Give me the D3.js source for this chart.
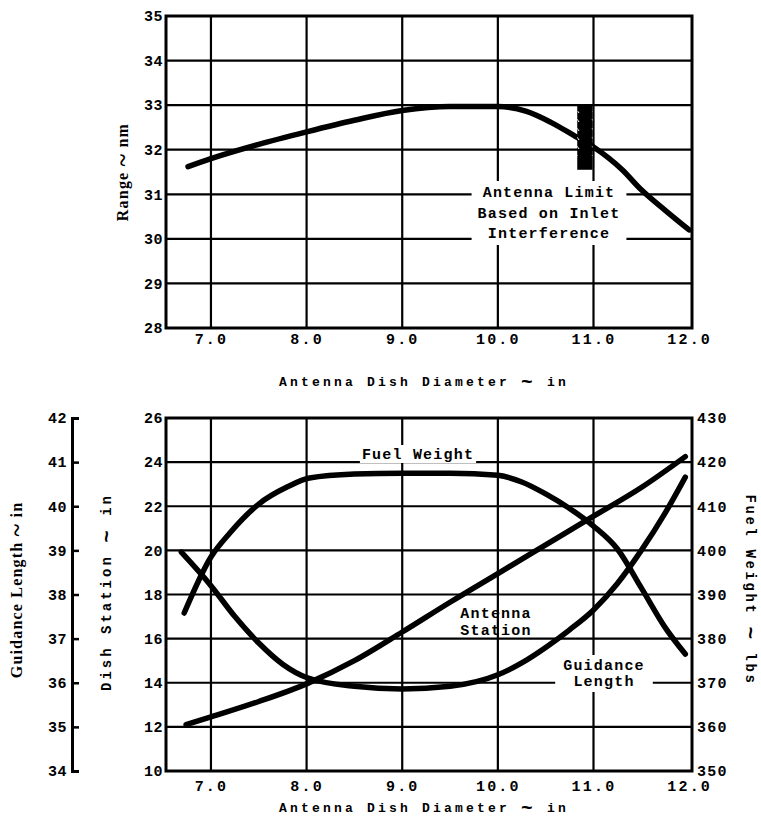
<!DOCTYPE html>
<html>
<head>
<meta charset="utf-8">
<script src="https://cdn.jsdelivr.net/npm/d3@7"></script>
<style>
body { margin: 0; background: #fff; }
</style>
</head>
<body>
<svg id="chart" width="761" height="822"></svg>
<script>
// Shared x values.
var diameterTicks = [7, 8, 9, 10, 11, 12];

// Top chart: range vs dish diameter.
var rangeTicks = [28, 29, 30, 31, 32, 33, 34, 35];
var rangeDiam = [6.76, 7.0, 7.5, 8.0, 8.5, 9.0, 9.5, 10.0, 10.3, 10.55, 10.81, 11.0, 11.3, 11.5, 11.75, 12.0];
var rangeNm = [31.62, 31.8, 32.12, 32.4, 32.66, 32.88, 32.97, 32.97, 32.86, 32.62, 32.3, 32.06, 31.55, 31.1, 30.64, 30.2];
var limitDiam = [10.83, 10.99];
var limitRange = [31.55, 33.0];

// Bottom chart: three curves on three y axes.
var stationTicks = [10, 12, 14, 16, 18, 20, 22, 24, 26];
var guidanceTicks = [34, 35, 36, 37, 38, 39, 40, 41, 42];
var fuelTicks = [350, 360, 370, 380, 390, 400, 410, 420, 430];

var fuelDiam = [6.72, 7.0, 7.2, 7.5, 7.8, 8.03, 8.5, 9.0, 9.5, 10.0, 10.25, 10.5, 10.75, 11.0, 11.25, 11.5, 11.75, 11.96];
var fuelLbs = [385.8, 398.5, 404, 410.5, 414.4, 416.4, 417.3, 417.5, 417.5, 417, 415.5, 412.8, 409.5, 405.5, 400.3, 391.5, 382.5, 376.5];

var stationDiam = [6.74, 7.0, 7.5, 8.0, 8.5, 9.0, 9.5, 10.0, 10.5, 11.0, 11.5, 11.96];
var stationIn = [12.1, 12.45, 13.15, 13.95, 15.0, 16.3, 17.65, 18.95, 20.25, 21.55, 22.85, 24.25];

var guidanceDiam = [6.69, 7.0, 7.25, 7.5, 7.75, 8.0, 8.5, 9.0, 9.5, 10.0, 10.25, 10.5, 10.75, 11.0, 11.25, 11.5, 11.75, 11.96];
var guidanceIn = [38.96, 38.2, 37.5, 36.9, 36.42, 36.12, 35.92, 35.86, 35.92, 36.18, 36.45, 36.8, 37.2, 37.65, 38.25, 39.0, 39.85, 40.66];

var MONO = "'Liberation Mono', 'Courier New', monospace";
var SERIF = "'Liberation Serif', 'DejaVu Serif', serif";

var svg = d3.select('#chart');

var x = d3.scaleLinear().domain([6.53, 12.03]).range([166, 692]);
var yRange = d3.scaleLinear().domain([28, 35]).range([328, 16]);
var yStation = d3.scaleLinear().domain([10, 26]).range([771, 418]);
var yGuidance = d3.scaleLinear().domain([34, 42]).range([771, 418]);
var yFuel = d3.scaleLinear().domain([350, 430]).range([771, 418]);

function zip(xs, ys) {
    return xs.map(function(d, i) { return [d, ys[i]]; });
}

function styleTicks(g, size, spacing) {
    g.select('.domain').remove();
    g.attr('font-family', MONO).attr('font-size', size).attr('font-weight', 'bold');
    g.selectAll('text').attr('fill', '#000').attr('letter-spacing', spacing);
}

function drawGrid(yScale, yTicks, top, bottom) {
    var grid = svg.append('g')
        .attr('stroke', '#000')
        .attr('stroke-width', 2.2);

    grid.selectAll('line.h')
        .data(yTicks)
        .enter().append('line')
        .attr('x1', x.range()[0]).attr('x2', x.range()[1])
        .attr('y1', function(d) { return yScale(d); })
        .attr('y2', function(d) { return yScale(d); });

    grid.selectAll('line.v')
        .data(diameterTicks.slice(0, -1))
        .enter().append('line')
        .attr('y1', top).attr('y2', bottom)
        .attr('x1', function(d) { return x(d); })
        .attr('x2', function(d) { return x(d); });
}

function drawBorder(top, bottom) {
    svg.append('rect')
        .attr('x', x.range()[0])
        .attr('y', top)
        .attr('width', x.range()[1] - x.range()[0])
        .attr('height', bottom - top)
        .attr('fill', 'none')
        .attr('stroke', '#000')
        .attr('stroke-width', 3);
}

function drawCurve(points, xs, ys) {
    svg.append('path')
        .datum(points)
        .attr('fill', 'none')
        .attr('stroke', '#000')
        .attr('stroke-width', 5.5)
        .attr('stroke-linecap', 'round')
        .attr('stroke-linejoin', 'round')
        .attr('d', d3.line()
            .curve(d3.curveMonotoneX)
            .x(function(d) { return xs(d[0]); })
            .y(function(d) { return ys(d[1]); }));
}

function label(lines, cx, y0, lineH, pad) {
    var g = svg.append('g');
    var t = g.append('text')
        .attr('font-family', MONO)
        .attr('font-size', 15)
        .attr('font-weight', 'bold')
        .attr('letter-spacing', 1.2)
        .attr('text-anchor', 'middle');
    lines.forEach(function(s, i) {
        t.append('tspan').attr('x', cx).attr('y', y0 + i * lineH).text(s);
    });
    if(pad) {
        var b = t.node().getBBox();
        g.insert('rect', 'text')
            .attr('x', b.x - pad[0]).attr('y', b.y - pad[1])
            .attr('width', b.width + 2 * pad[0])
            .attr('height', b.height + pad[1] + pad[2])
            .attr('fill', '#fff');
    }
    return g;
}

// Axis title with an enlarged tilde.
function title(transform, parts, font, size, spacing) {
    var t = svg.append('text')
        .attr('transform', transform)
        .attr('text-anchor', 'middle')
        .attr('font-family', font)
        .attr('font-size', size)
        .attr('font-weight', 'bold')
        .attr('letter-spacing', spacing);
    t.append('tspan').text(parts[0]);
    t.append('tspan').attr('font-size', size * 1.5).attr('dy', 2).text('~');
    t.append('tspan').attr('dy', -2).text(parts[1]);
    return t;
}

// ---- Top chart ----
drawGrid(yRange, rangeTicks, 16, 328);

// Text block over the grid.
label(['Antenna Limit', 'Based on Inlet', 'Interference'], 549, 197, 20.5, [6, 4, 2]);

drawCurve(zip(rangeDiam, rangeNm), x, yRange);

// Hatched antenna limit bar.
var defs = svg.append('defs');
defs.append('pattern')
    .attr('id', 'hatch')
    .attr('patternUnits', 'userSpaceOnUse')
    .attr('width', 15).attr('height', 9)
    .append('path')
    .attr('d', 'M7,2 l2,3')
    .attr('stroke', '#fff')
    .attr('stroke-width', 1);

svg.append('rect')
    .attr('x', x(limitDiam[0]))
    .attr('y', yRange(limitRange[1]))
    .attr('width', x(limitDiam[1]) - x(limitDiam[0]))
    .attr('height', yRange(limitRange[0]) - yRange(limitRange[1]))
    .attr('fill', '#000');
svg.append('rect')
    .attr('x', x(limitDiam[0]))
    .attr('y', yRange(limitRange[1]) + 6)
    .attr('width', x(limitDiam[1]) - x(limitDiam[0]))
    .attr('height', yRange(limitRange[0]) - yRange(limitRange[1]) - 20)
    .attr('fill', 'url(#hatch)');

drawBorder(16, 328);

svg.append('g')
    .attr('transform', 'translate(166,0)')
    .call(d3.axisLeft(yRange).tickValues(rangeTicks).tickSize(0).tickPadding(3)
        .tickFormat(d3.format('d')))
    .call(function(g) { styleTicks(g, 15, 0.5); });

svg.append('g')
    .attr('transform', 'translate(0,328)')
    .call(d3.axisBottom(x).tickValues(diameterTicks).tickSize(0).tickPadding(5)
        .tickFormat(d3.format('.1f')))
    .call(function(g) { styleTicks(g, 15, 2.2); });

title('translate(128,172) rotate(-90)', ['Range ', ' nm'], SERIF, 16, 1.2);
title('translate(424,386)', ['Antenna Dish Diameter ', ' in'], MONO, 13, 3.2);

// ---- Bottom chart ----
drawGrid(yStation, stationTicks, 418, 771);

label(['Fuel Weight'], 418, 459, 0, [2, 2, -1]);
label(['Antenna', 'Station'], 496, 618, 17, null);
label(['Guidance', 'Length'], 604, 670, 16, [8, 3, 1]);

drawCurve(zip(fuelDiam, fuelLbs), x, yFuel);
drawCurve(zip(stationDiam, stationIn), x, yStation);
drawCurve(zip(guidanceDiam, guidanceIn), x, yGuidance);

drawBorder(418, 771);

svg.append('g')
    .attr('transform', 'translate(166,0)')
    .call(d3.axisLeft(yStation).tickValues(stationTicks).tickSize(0).tickPadding(3)
        .tickFormat(d3.format('d')))
    .call(function(g) { styleTicks(g, 15, 0.5); });

svg.append('g')
    .attr('transform', 'translate(692,0)')
    .call(d3.axisRight(yFuel).tickValues(fuelTicks).tickSize(0).tickPadding(5)
        .tickFormat(d3.format('d')))
    .call(function(g) { styleTicks(g, 15, 1.2); });

svg.append('g')
    .attr('transform', 'translate(0,771)')
    .call(d3.axisBottom(x).tickValues(diameterTicks).tickSize(0).tickPadding(9)
        .tickFormat(d3.format('.1f')))
    .call(function(g) { styleTicks(g, 15, 2.2); });

// Separate guidance length scale on the far left.
var gAxis = svg.append('g')
    .attr('transform', 'translate(72,0)')
    .call(d3.axisLeft(yGuidance).tickValues(guidanceTicks).tickSize(-7).tickPadding(5)
        .tickFormat(d3.format('d')));
gAxis.attr('font-family', MONO).attr('font-size', 15).attr('font-weight', 'bold');
gAxis.selectAll('text').attr('fill', '#000').attr('letter-spacing', 0.5);
gAxis.selectAll('line').attr('stroke', '#000').attr('stroke-width', 2.5);
gAxis.select('.domain').attr('stroke', '#000').attr('stroke-width', 3);

title('translate(22,590) rotate(-90)', ['Guidance Length ', ' in'], SERIF, 16, 1.2);
title('translate(111,592) rotate(-90)', ['Dish Station ', ' in'], MONO, 14, 3);
title('translate(746,590) rotate(90)', ['Fuel Weight ', ' lbs'], MONO, 14, 2.6);
title('translate(424,812)', ['Antenna Dish Diameter ', ' in'], MONO, 13, 3.2);
</script>
</body>
</html>
